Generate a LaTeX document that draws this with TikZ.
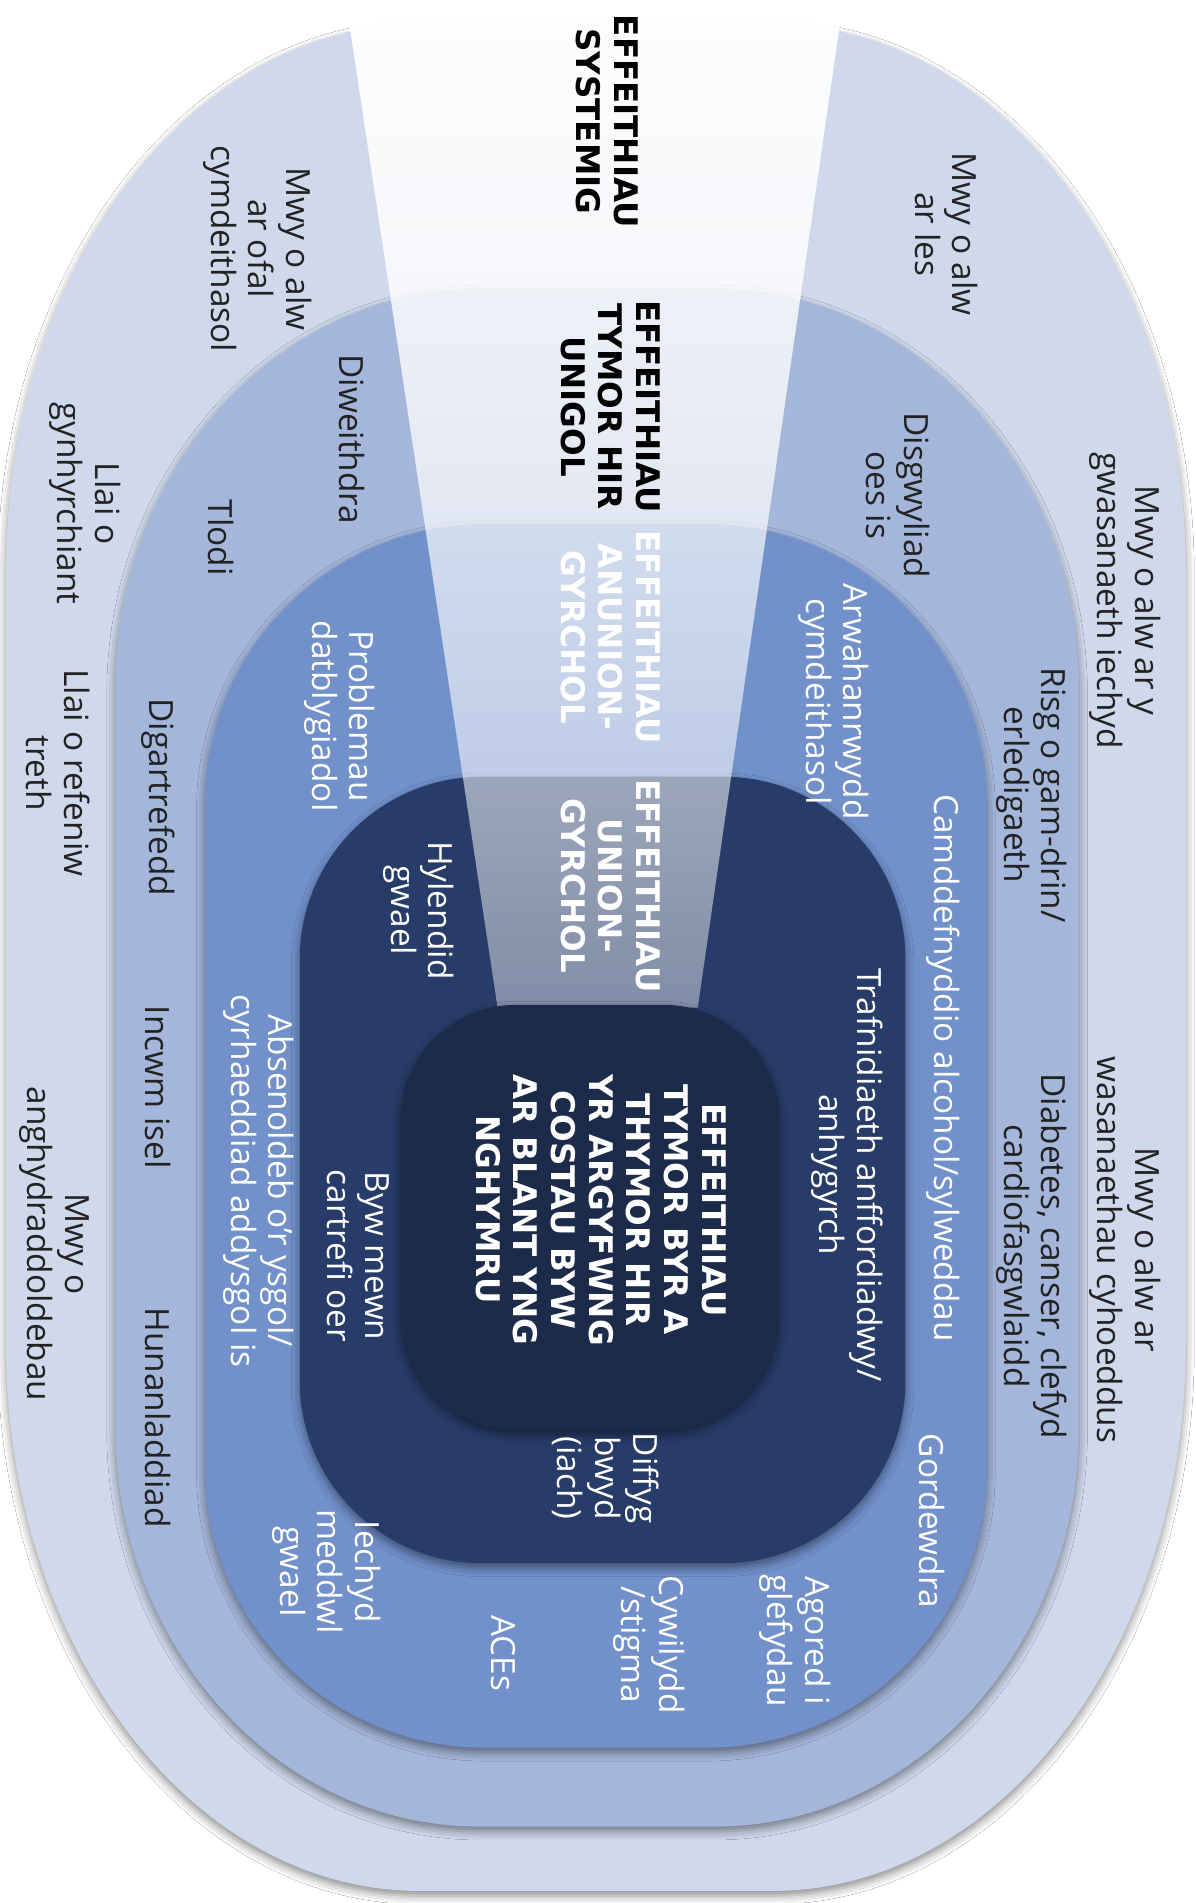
\documentclass[tikz,border=0pt]{standalone}
\usepackage{fontspec}
\setmainfont{Open Sans}
\newfontfamily\titlefont{DejaVu Sans}
\usetikzlibrary{shadows.blur,fadings}
\definecolor{ringA}{HTML}{CFD9EB}
\definecolor{ringB}{HTML}{A4B6DA}
\definecolor{ringC}{HTML}{7291CB}
\definecolor{ringD}{HTML}{273C68}
\definecolor{ringE}{HTML}{1D2B4B}
\definecolor{txtdark}{HTML}{222222}
\tikzfading[name=beamfade, top color=transparent!3, middle color=transparent!48, bottom color=transparent!58]
% L T R B rx ry
\newcommand\ringp[6]{(#1,#2+#6) .. controls (#1,#2+0.4477*#6) and (#1+0.4477*#5,#2) .. (#1+#5,#2)
 -- (#3-#5,#2) .. controls (#3-0.4477*#5,#2) and (#3,#2+0.4477*#6) .. (#3,#2+#6)
 -- (#3,#4-#6) .. controls (#3,#4-0.4477*#6) and (#3-0.4477*#5,#4) .. (#3-#5,#4)
 -- (#1+#5,#4) .. controls (#1+0.4477*#5,#4) and (#1,#4-0.4477*#6) .. (#1,#4-#6) -- cycle}
\tikzset{
  shd/.style={blur shadow={shadow xshift=0pt, shadow yshift=-4pt, shadow blur radius=7pt, shadow opacity=45}},
  lbl/.style={rotate=-90, align=center, inner sep=0pt, font=\fontsize{27.5}{31}\selectfont},
  dk/.style={lbl, text=txtdark},
  wt/.style={lbl, text=white},
  ttl/.style={rotate=-90, align=center, inner sep=0pt, font=\titlefont\bfseries\fontsize{26.8}{31}\selectfont},
}
\begin{document}
\begin{tikzpicture}[x=1pt,y=-1pt]
\useasboundingbox (0,0) rectangle (985,1568);
\fill[white] (0,0) rectangle (985,1568);
% rings
\fill[ringA, shd] \ringp{5}{20}{977}{1558}{340}{450};
\fill[ringB, shd] \ringp{95}{238}{889}{1505}{300}{330};
\fill[ringC, shd] \ringp{169}{432}{813}{1440}{230}{230};
\fill[ringD, shd] \ringp{247}{640}{746}{1288}{150}{150};
% beam
\fill[white, path fading=beamfade] (288,20) .. controls (490,-4) .. (692,20) -- (575,830) -- (410,830) -- cycle;
\fill[ringE, shd] \ringp{330}{828}{642}{1178}{95}{95};
% ring 1 texts
\node[dk] (t1) at (780,193) {Mwy o alw\\ar les};
\node[dk] (t2) at (927,495) {Mwy o alw ar y\\gwasanaeth iechyd};
\node[dk] (t3) at (927,1030) {Mwy o alw ar\\wasanaethau cyhoeddus};
\node[dk] (t4) at (212,205) {Mwy o alw\\ar ofal\\cymdeithasol};
\node[dk] (t5) at (70,415) {Llai o\\gynhyrchiant};
\node[dk] (t6) at (48,637) {Llai o refeniw\\treth};
\node[dk] (t7) at (45,1025) {Mwy o\\anghydraddoldebau};
% ring 2 texts
\node[dk] (t8) at (740,408) {Disgwyliad\\oes is};
\node[dk] (t9) at (850,655) {Risg o gam-drin/\\erledigaeth};
\node[dk] (t10) at (850,1035) {Diabetes, canser, clefyd\\cardiofasgwlaidd};
\node[dk] (t11) at (290,362) {Diweithdra};
\node[dk] (t12) at (182,443) {Tlodi};
\node[dk] (t13) at (130,657) {Digartrefedd};
\node[dk] (t14) at (130,896) {Incwm isel};
\node[dk] (t15) at (130,1168) {Hunanladdiad};
% ring 3 texts
\node[wt] (t16) at (687,578) {Arwahanrwydd\\cymdeithasol};
\node[wt] (t17) at (777,880) {Camddefnyddio alcohol/sylweddau};
\node[wt] (t18) at (768,1253) {Gordewdra};
\node[wt] (t19) at (655,1352) {Agored i\\glefydau};
\node[wt] (t20) at (535,1355) {Cywilydd\\/stigma};
\node[wt] (t21) at (415,1362) {ACEs};
\node[wt] (t22) at (269,1295) {Iechyd\\meddwl\\gwael};
\node[wt] (t23) at (213,973) {Absenoldeb o’r ysgol/\\cyrhaeddiad addysgol is};
\node[wt] (t24) at (280,590) {Problemau\\datblygiadol};
% ring 4 texts
\node[wt] (t25) at (698,968) {Trafnidiaeth anffordiadwy/\\anhygyrch};
\node[wt] (t26) at (345,750) {Hylendid\\gwael};
\node[wt] (t27) at (295,1035) {Byw mewn\\cartrefi oer};
\node[wt] (t28) at (499,1218) {Diffyg\\bwyd\\(iach)};
% titles
\node[ttl, text=black] (h1) at (500,100) {EFFEITHIAU\\SYSTEMIG};
\node[ttl, text=black] (h2) at (503,335) {EFFEITHIAU\\TYMOR HIR\\UNIGOL};
\node[ttl, text=white] (h3) at (503,525) {EFFEITHIAU\\ANUNION-\\GYRCHOL};
\node[ttl, text=white] (h4) at (503,730) {EFFEITHIAU\\UNION-\\GYRCHOL};
\node[ttl, text=white] (h5) at (495,997) {EFFEITHIAU\\TYMOR BYR A\\THYMOR HIR\\YR ARGYFWNG\\COSTAU BYW\\AR BLANT YNG\\NGHYMRU};
\end{tikzpicture}
\end{document}
